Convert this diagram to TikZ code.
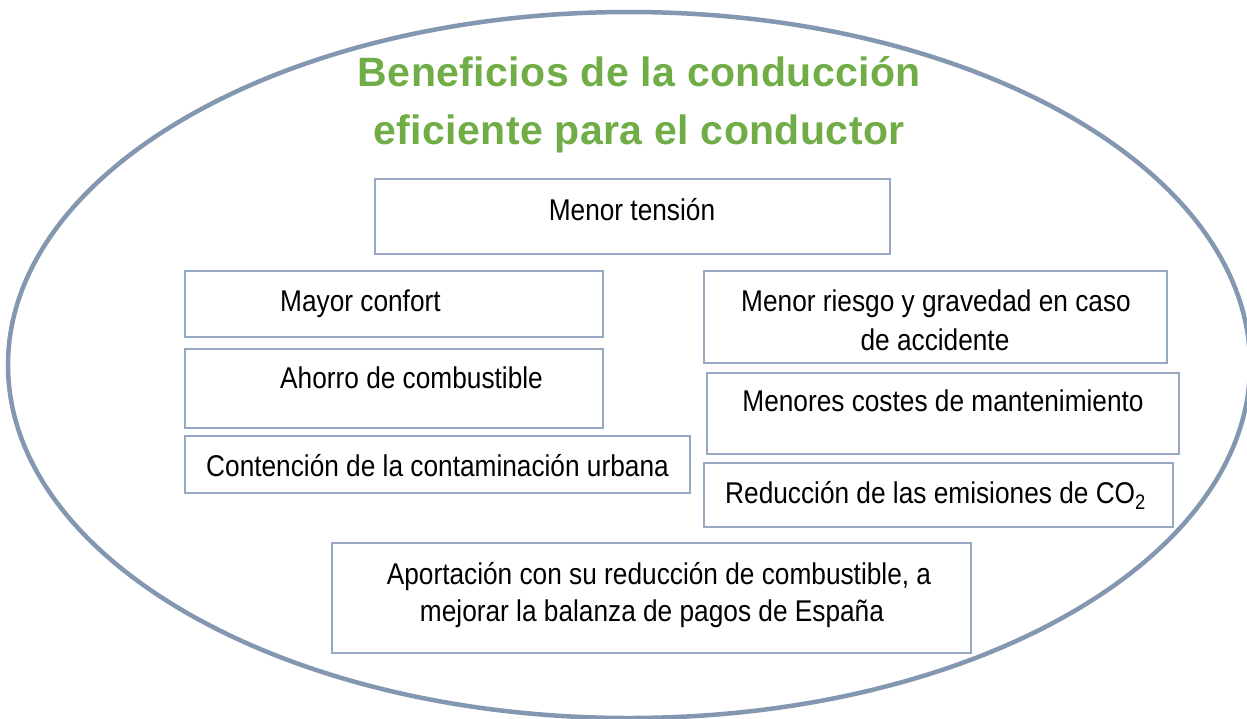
\documentclass[tikz,border=0pt]{standalone}
\usepackage{fontspec}
\setmainfont{Liberation Sans}[FakeStretch=0.875]
\newfontfamily\titlefont{Liberation Sans}[LetterSpace=1]
\usetikzlibrary{shapes.geometric}
\definecolor{ring}{RGB}{132,151,176}
\definecolor{boxline}{RGB}{150,168,194}
\definecolor{titlegreen}{RGB}{112,173,71}
\begin{document}
\begin{tikzpicture}[x=1pt,y=-1pt,
  box/.style={draw=boxline, line width=1.2pt, fill=white, inner sep=0pt, outer sep=0pt},
  txt/.style={font=\fontsize{30}{36}\selectfont, inner sep=0pt, text=black},
  ttl/.style={font=\titlefont\bfseries\fontsize{41}{48}\selectfont, text=titlegreen, inner sep=0pt}]
\useasboundingbox (0,0) rectangle (1247,718);
\clip (0,0) rectangle (1247,718);
\fill[white] (0,0) rectangle (1247,718);
\node[draw=ring, line width=4.5pt, ellipse, minimum width=1242pt, minimum height=706pt, inner sep=0pt] (ring) at (629,365) {};
% title
\node[ttl, anchor=base] (title1) at (639.5,86.5) {Beneficios de la conducción};
\node[ttl, anchor=base] (title2) at (639,144) {eficiente para el conductor};
% boxes
\node[box, minimum width=515pt, minimum height=75pt] (b1) at (632.5,216.5) {};
\node[box, minimum width=418pt, minimum height=66pt] (b2) at (394,304) {};
\node[box, minimum width=418pt, minimum height=79pt] (b3) at (394,388.5) {};
\node[box, minimum width=505pt, minimum height=57pt] (b4) at (437.5,464.5) {};
\node[box, minimum width=463pt, minimum height=92pt] (b5) at (935.5,317) {};
\node[box, minimum width=472pt, minimum height=81pt] (b6) at (943,413.5) {};
\node[box, minimum width=469pt, minimum height=64pt] (b7) at (938.5,495) {};
\node[box, minimum width=639pt, minimum height=110pt] (b8) at (651.5,598) {};
% texts
\node[txt, anchor=base] (t1) at (632,220.5) {Menor tensión};
\node[txt, anchor=base west] (t2) at (280,311.5) {Mayor confort};
\node[txt, anchor=base west] (t3) at (280,388) {Ahorro de combustible};
\node[txt, anchor=base west] (t4) at (206,476.5) {Contención de la contaminación urbana};
\node[txt, anchor=base] (t5a) at (936,311.5) {Menor riesgo y gravedad en caso};
\node[txt, anchor=base] (t5b) at (935,350) {de accidente};
\node[txt, anchor=base] (t6) at (943,411.5) {Menores costes de mantenimiento};
\node[txt, anchor=base west] (t7) at (725,503) {Reducción de las emisiones de CO\textsubscript{2}};
\node[txt, anchor=base] (t8a) at (659,584.5) {Aportación con su reducción de combustible, a};
\node[txt, anchor=base] (t8b) at (652,621) {mejorar la balanza de pagos de España};
\end{tikzpicture}
\end{document}
